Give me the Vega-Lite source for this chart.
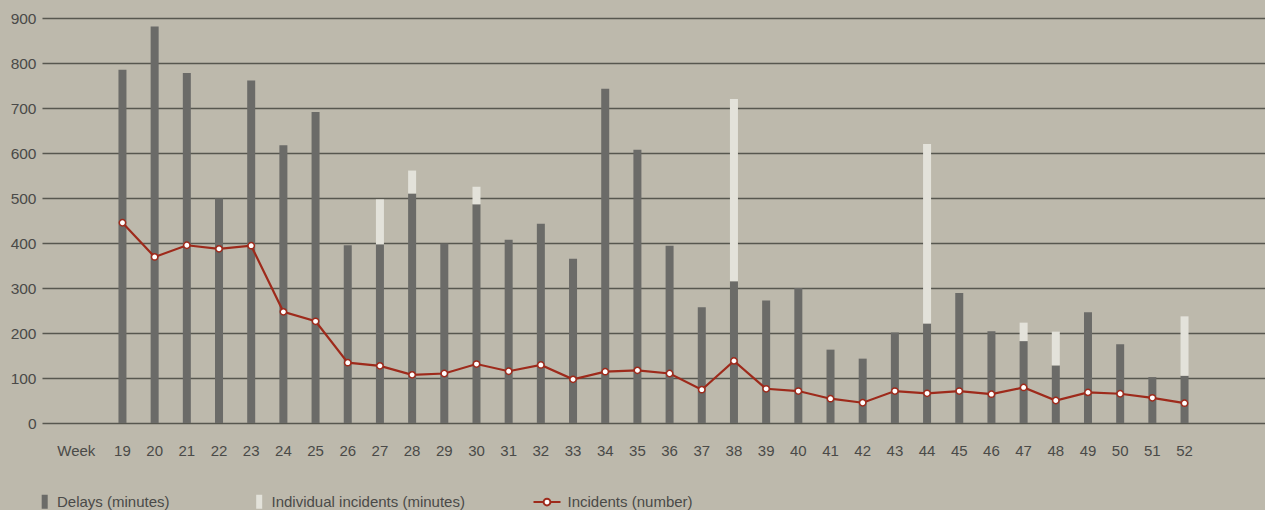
{
  "$schema": "https://vega.github.io/schema/vega-lite/v6.json",
  "width": 1223,
  "height": 405,
  "autosize": {"type": "none"},
  "padding": {"left": 42, "top": 18, "right": 0, "bottom": 87},
  "background": "#bdb9ac",
  "config": {
    "view": {"stroke": null},
    "font": "Liberation Sans",
    "legend": {"padding": 0, "labelFont": "Liberation Sans", "labelFontSize": 15, "labelColor": "#4a4a48", "title": null}
  },
  "data": {
    "values": [
      {"week": "19", "Delays (minutes)": 785, "Individual incidents (minutes)": 0, "incidents": 445},
      {"week": "20", "Delays (minutes)": 881, "Individual incidents (minutes)": 0, "incidents": 369},
      {"week": "21", "Delays (minutes)": 778, "Individual incidents (minutes)": 0, "incidents": 395},
      {"week": "22", "Delays (minutes)": 499, "Individual incidents (minutes)": 0, "incidents": 387},
      {"week": "23", "Delays (minutes)": 761, "Individual incidents (minutes)": 0, "incidents": 394},
      {"week": "24", "Delays (minutes)": 617, "Individual incidents (minutes)": 0, "incidents": 247},
      {"week": "25", "Delays (minutes)": 691, "Individual incidents (minutes)": 0, "incidents": 226},
      {"week": "26", "Delays (minutes)": 395, "Individual incidents (minutes)": 0, "incidents": 134},
      {"week": "27", "Delays (minutes)": 397, "Individual incidents (minutes)": 100, "incidents": 127},
      {"week": "28", "Delays (minutes)": 510, "Individual incidents (minutes)": 51, "incidents": 107},
      {"week": "29", "Delays (minutes)": 399, "Individual incidents (minutes)": 0, "incidents": 110},
      {"week": "30", "Delays (minutes)": 486, "Individual incidents (minutes)": 39, "incidents": 131},
      {"week": "31", "Delays (minutes)": 407, "Individual incidents (minutes)": 0, "incidents": 115},
      {"week": "32", "Delays (minutes)": 443, "Individual incidents (minutes)": 0, "incidents": 129},
      {"week": "33", "Delays (minutes)": 365, "Individual incidents (minutes)": 0, "incidents": 97},
      {"week": "34", "Delays (minutes)": 743, "Individual incidents (minutes)": 0, "incidents": 114},
      {"week": "35", "Delays (minutes)": 607, "Individual incidents (minutes)": 0, "incidents": 117},
      {"week": "36", "Delays (minutes)": 394, "Individual incidents (minutes)": 0, "incidents": 110},
      {"week": "37", "Delays (minutes)": 257, "Individual incidents (minutes)": 0, "incidents": 74},
      {"week": "38", "Delays (minutes)": 315, "Individual incidents (minutes)": 405, "incidents": 138},
      {"week": "39", "Delays (minutes)": 272, "Individual incidents (minutes)": 0, "incidents": 76},
      {"week": "40", "Delays (minutes)": 300, "Individual incidents (minutes)": 0, "incidents": 71},
      {"week": "41", "Delays (minutes)": 163, "Individual incidents (minutes)": 0, "incidents": 54},
      {"week": "42", "Delays (minutes)": 143, "Individual incidents (minutes)": 0, "incidents": 45},
      {"week": "43", "Delays (minutes)": 201, "Individual incidents (minutes)": 0, "incidents": 71},
      {"week": "44", "Delays (minutes)": 221, "Individual incidents (minutes)": 399, "incidents": 66},
      {"week": "45", "Delays (minutes)": 289, "Individual incidents (minutes)": 0, "incidents": 71},
      {"week": "46", "Delays (minutes)": 204, "Individual incidents (minutes)": 0, "incidents": 64},
      {"week": "47", "Delays (minutes)": 182, "Individual incidents (minutes)": 41, "incidents": 79},
      {"week": "48", "Delays (minutes)": 128, "Individual incidents (minutes)": 75, "incidents": 50},
      {"week": "49", "Delays (minutes)": 246, "Individual incidents (minutes)": 0, "incidents": 68},
      {"week": "50", "Delays (minutes)": 175, "Individual incidents (minutes)": 0, "incidents": 65},
      {"week": "51", "Delays (minutes)": 102, "Individual incidents (minutes)": 0, "incidents": 56},
      {"week": "52", "Delays (minutes)": 105, "Individual incidents (minutes)": 132, "incidents": 44}
    ]
  },
  "encoding": {
    "x": {
      "field": "week",
      "type": "ordinal",
      "scale": {
        "domain": ["17","18","19","20","21","22","23","24","25","26","27","28","29","30","31","32","33","34","35","36","37","38","39","40","41","42","43","44","45","46","47","48","49","50","51","52","53","54"],
        "paddingInner": 0,
        "paddingOuter": 0
      },
      "axis": {
        "title": null,
        "domain": false,
        "ticks": false,
        "grid": false,
        "labelAngle": 0,
        "labelFont": "Liberation Sans",
        "labelFontSize": 15,
        "labelColor": "#4a4a48",
        "labelPadding": 20,
        "labelExpr": "datum.value == '18' ? 'Week' : (toNumber(datum.value) >= 19 && toNumber(datum.value) <= 52 ? datum.value : '')",
        "labelOffset": {"condition": {"test": "datum.value == '18'", "value": -14}, "value": 0}
      }
    }
  },
  "layer": [
    {
      "transform": [{"fold": ["Delays (minutes)", "Individual incidents (minutes)"], "as": ["series", "minutes"]}],
      "mark": {"type": "bar", "size": 8},
      "encoding": {
        "y": {
          "field": "minutes",
          "type": "quantitative",
          "stack": "zero",
          "scale": {"domain": [0, 900], "nice": false},
          "axis": {
            "title": null,
            "domain": false,
            "ticks": false,
            "values": [0, 100, 200, 300, 400, 500, 600, 700, 800, 900],
            "labelFont": "Liberation Sans",
            "labelFontSize": 15.5,
            "labelColor": "#4a4a48",
            "labelPadding": 6,
            "gridColor": "#57574f",
            "gridWidth": 1.3,
            "gridOpacity": 1
          }
        },
        "order": {"field": "series", "sort": "ascending"},
        "color": {
          "field": "series",
          "type": "nominal",
          "scale": {"domain": ["Delays (minutes)", "Individual incidents (minutes)"], "range": ["#6b6b68", "#e3e2da"]},
          "legend": {
            "orient": "none",
            "legendX": -4.8,
            "legendY": 476,
            "direction": "horizontal",
            "columns": 2,
            "symbolType": "M-0.43,-1H0.43V1H-0.43Z",
            "symbolSize": 196,
            "symbolStrokeWidth": 0,
            "labelOffset": 4.8,
            "columnPadding": 81.5,
            "labelLimit": 0
          }
        }
      }
    },
    {
      "mark": {"type": "line", "strokeWidth": 2.2},
      "encoding": {
        "y": {"field": "incidents", "type": "quantitative"},
        "stroke": {
          "datum": "Incidents (number)",
          "scale": {"domain": ["Incidents (number)"], "range": ["#9e2a1b"]},
          "legend": {
            "orient": "none",
            "legendX": 490.5,
            "legendY": 469.5,
            "symbolType": "M-1,0H-0.25M0.25,0H1M-0.25,0A0.25,0.25 0 1,0 0.25,0A0.25,0.25 0 1,0 -0.25,0",
            "symbolSize": 729,
            "symbolStrokeWidth": 2,
            "symbolFillColor": "#ffffff",
            "labelOffset": 6,
            "labelLimit": 0
          }
        }
      }
    },
    {
      "mark": {"type": "point", "shape": "circle", "filled": true, "fill": "#ffffff", "stroke": "#9e2a1b", "strokeWidth": 1.5, "size": 40, "opacity": 1},
      "encoding": {
        "y": {"field": "incidents", "type": "quantitative"}
      }
    }
  ]
}
